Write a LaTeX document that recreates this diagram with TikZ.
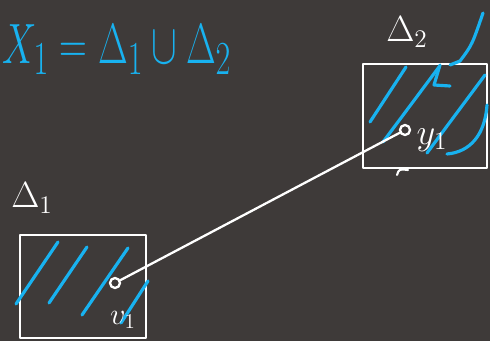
\documentclass[tikz,border=0pt]{standalone}
\usepackage{amsmath}
\definecolor{board}{RGB}{62,58,57}
\definecolor{chalk}{RGB}{24,178,240}

\begin{document}
\begin{tikzpicture}[x=0.02cm,y=-0.02cm,line cap=round,line join=round]
  \tikzstyle{cell}=[draw=white,line width=1.2pt,inner sep=0pt]
  \tikzstyle{vertex}=[circle,draw=white,line width=1.3pt,minimum size=0.2cm,inner sep=0pt]
  \tikzstyle{hatch}=[chalk,line width=1.8pt]
  \tikzstyle{lbl}=[white,inner sep=0pt]
  \fill[board] (0,0) rectangle (490,341);
  \useasboundingbox (0,0) rectangle (490,341);
  % the two cells
  \node[cell,minimum width=2.52cm,minimum height=2.06cm] (D1) at (83,286.5) {};
  \node[cell,minimum width=2.48cm,minimum height=2.08cm] (D2) at (425,116) {};
  % hatching
  \draw[hatch] (58,242) -- (16,304);
  \draw[hatch] (87,247) -- (49,303);
  \draw[hatch] (128,248) -- (82,315);
  \draw[hatch] (148,281) -- (121,323);
  \draw[hatch] (406,67) -- (370,122);
  \draw[hatch] (439,67) -- (383,142);
  \draw[hatch] (440,65) -- (434,85) -- (450,86);
  \draw[hatch] (483,13) .. controls (472,45) .. (460,61) -- (450,65);
  \draw[hatch] (485,75) -- (427,153);
  \draw[hatch] (487,105) .. controls (485,135) and (470,152) .. (447,154);
  \draw[white,line width=1.2pt] (397,175) .. controls (399,169) .. (408,170);
  % labels
  \node[lbl,chalk,font=\Huge,xscale=0.88,yscale=1.3,anchor=west] (X1) at (2,50) {$X_1=\Delta_1\cup\Delta_2$};
  \node[lbl,font=\huge] (L2) at (407,32) {$\Delta_2$};
  \node[lbl,font=\huge] (L1) at (32,198) {$\Delta_1$};
  \node[lbl,font=\huge] (y) at (432,140) {$y_1$};
  \node[lbl,font=\LARGE] (v) at (123,320) {$v_1$};
  % the path between the points
  \node[vertex] (p) at (115,283) {};
  \node[vertex] (q) at (405,130) {};
  \draw[white,line width=1.3pt] (p) -- (q);
\end{tikzpicture}
\end{document}
